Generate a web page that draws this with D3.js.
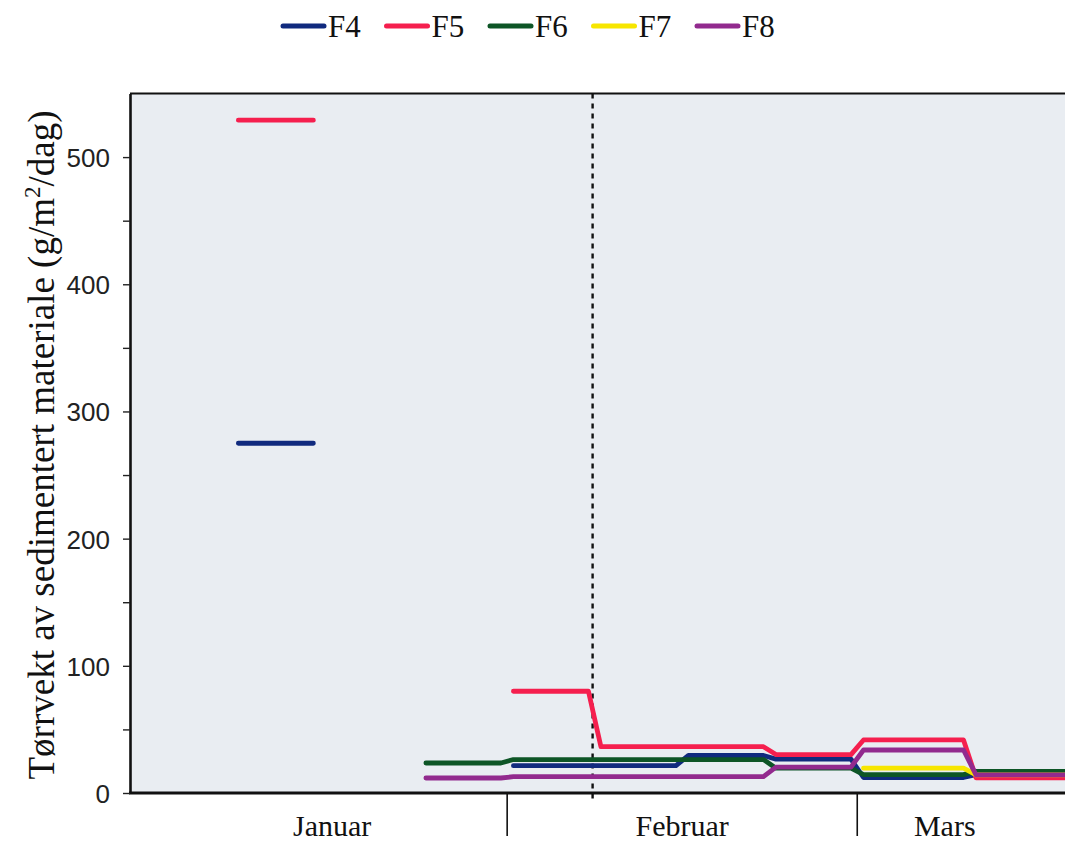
<!DOCTYPE html>
<html>
<head>
<meta charset="utf-8">
<script src="https://cdn.jsdelivr.net/npm/d3@7"></script>
<style>
  body { margin: 0; background: #fff; }
  .ytick text { font-family: "Liberation Sans", Arial, sans-serif; font-size: 26px; fill: #222; }
  .serif { font-family: "Liberation Serif", "Times New Roman", serif; fill: #111; }
</style>
</head>
<body>
<script>
let width = 1065
let height = 845

// sampling periods (first and last day of each collection period)
let periodStart = ["2010-01-10", "2010-01-25", "2010-02-01", "2010-02-08", "2010-02-15", "2010-02-22", "2010-03-01", "2010-03-10"]
let periodEnd   = ["2010-01-16", "2010-01-31", "2010-02-07", "2010-02-14", "2010-02-21", "2010-02-28", "2010-03-09", "2010-03-18"]

// g/m2/dag per period, null = no measurement
let F4 = [275, null, 21.5, 21.5, 29.5, 26.6, 12.2, 14.5]
let F5 = [529, null, 80, 36.4, 36.4, 30.2, 41.7, 12]
let F6 = [null, 23.6, 26.3, 26.3, 26.3, 19.5, 14.5, 17]
let F7 = [null, null, null, null, null, null, 19.5, 14.2]
let F8 = [null, 11.8, 12.8, 12.8, 12.8, 20.4, 33.8, 14.2]

let seriesNames = ["F4", "F5", "F6", "F7", "F8"]
let seriesColors = ["#102a7e", "#f51f4e", "#0d5526", "#f7e600", "#922a8e"]

let months = ["Januar", "Februar", "Mars"]
let monthLabelDates = ["2010-01-18", "2010-02-15", "2010-03-08"]
let monthStarts = ["2010-02-01", "2010-03-01"]
let markerDate = "2010-02-07 20:00"

let yTicks = [0, 100, 200, 300, 400, 500]
let yMinor = [50, 150, 250, 350, 450]

let parseDay = d3.timeParse("%Y-%m-%d")
let parseTime = d3.timeParse("%Y-%m-%d %H:%M")
let noon = s => d3.timeHour.offset(parseDay(s), 12)

let svg = d3.select("body")
    .append("svg")
    .attr("width", width)
    .attr("height", height)

let x = d3.scaleTime()
    .domain([new Date(2010, 0, 1, 20), new Date(2010, 2, 18, 10)])
    .range([130, 1075])

let y = d3.scaleLinear()
    .domain([0, 550])
    .range([793, 93.5])

// plot background
svg.append("rect")
    .attr("x", x.range()[0])
    .attr("y", y(550))
    .attr("width", x.range()[1] - x.range()[0])
    .attr("height", y(0) - y(550))
    .attr("fill", "#e9edf2")

// top frame
svg.append("line")
    .attr("x1", x.range()[0]).attr("x2", x.range()[1])
    .attr("y1", y(550)).attr("y2", y(550))
    .attr("stroke", "#111").attr("stroke-width", 2.2)

// month separators below the axis
svg.selectAll(".msep")
    .data(monthStarts)
    .enter()
    .append("line")
    .attr("class", "msep")
    .attr("x1", d => x(parseDay(d))).attr("x2", d => x(parseDay(d)))
    .attr("y1", y(0)).attr("y2", y(0) + 43)
    .attr("stroke", "#111").attr("stroke-width", 1.6)

svg.selectAll(".month")
    .data(months)
    .enter()
    .append("text")
    .attr("class", "serif")
    .attr("x", (d, i) => x(parseDay(monthLabelDates[i])))
    .attr("y", 836)
    .attr("text-anchor", "middle")
    .attr("font-size", 30)
    .text(d => d)

// dashed marker
svg.append("line")
    .attr("x1", x(parseTime(markerDate))).attr("x2", x(parseTime(markerDate)))
    .attr("y1", y(550)).attr("y2", y(0) + 7)
    .attr("stroke", "#111").attr("stroke-width", 2.4)
    .attr("stroke-dasharray", "5,5")

// series
let line = d3.line()
    .defined(d => d.v != null)
    .x(d => x(d.date))
    .y(d => y(d.v))

let allSeries = [F4, F5, F6, F7, F8].map((vals, i) => {
    let pts = []
    vals.forEach((v, j) => {
        pts.push({date: noon(periodStart[j]), v: v})
        pts.push({date: noon(periodEnd[j]), v: v})
    })
    return {name: seriesNames[i], color: seriesColors[i], points: pts}
})

svg.append("g")
    .selectAll("path")
    .data(allSeries)
    .enter()
    .append("path")
    .attr("d", d => line(d.points))
    .attr("fill", "none")
    .attr("stroke", d => d.color)
    .attr("stroke-width", 4.8)
    .attr("stroke-linecap", "round")
    .attr("stroke-linejoin", "round")

// bottom axis line
svg.append("line")
    .attr("x1", x.range()[0] - 1).attr("x2", x.range()[1])
    .attr("y1", y(0)).attr("y2", y(0))
    .attr("stroke", "#111").attr("stroke-width", 2.8)

// y axis
let yAxis = svg.append("g")
    .attr("class", "ytick")
    .attr("transform", "translate(130,0)")
    .call(d3.axisLeft(y).tickValues(yTicks).tickSize(7).tickPadding(13).tickSizeOuter(0))
yAxis.select(".domain").attr("stroke", "#111").attr("stroke-width", 2.6)
yAxis.selectAll(".tick line").attr("stroke", "#222").attr("stroke-width", 1.4)
yAxis.selectAll(".tick text").attr("dy", "0.36em")

svg.append("g")
    .attr("transform", "translate(130,0)")
    .call(d3.axisLeft(y).tickValues(yMinor).tickSize(7).tickFormat("").tickSizeOuter(0))
    .call(g => g.select(".domain").remove())
    .selectAll(".tick line").attr("stroke", "#222").attr("stroke-width", 1.4)

// y axis title
let title = svg.append("text")
    .attr("class", "serif")
    .attr("transform", "translate(54,445) rotate(-90)")
    .attr("text-anchor", "middle")
    .attr("font-size", 37)
title.append("tspan").text("Tørrvekt av sedimentert materiale (g/m")
title.append("tspan").attr("font-size", 23).attr("dy", -14).text("2")
title.append("tspan").attr("dy", 14).text("/dag)")

// legend
let legend = svg.append("g")
    .selectAll("g")
    .data(allSeries)
    .enter()
    .append("g")
    .attr("transform", (d, i) => `translate(${281 + i * 103.5},0)`)

legend.append("line")
    .attr("x1", 2).attr("x2", 43)
    .attr("y1", 26).attr("y2", 26)
    .attr("stroke", d => d.color)
    .attr("stroke-width", 5)
    .attr("stroke-linecap", "round")

legend.append("text")
    .attr("class", "serif")
    .attr("x", 47)
    .attr("y", 37)
    .attr("font-size", 31)
    .text(d => d.name)
</script>
</body>
</html>
